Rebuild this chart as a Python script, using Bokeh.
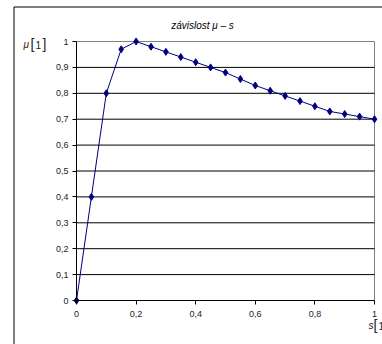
from bokeh.plotting import figure
from bokeh.models import (Range1d, FixedTicker, CustomJSTickFormatter, Label,
                          LinearAxis)
from bokeh.embed import file_html
from bokeh.resources import INLINE

# data
s_values = [0.0, 0.05, 0.1, 0.15, 0.2, 0.25, 0.3, 0.35, 0.4, 0.45, 0.5,
            0.55, 0.6, 0.65, 0.7, 0.75, 0.8, 0.85, 0.9, 0.95, 1.0]
mu_values = [0.0, 0.40, 0.80, 0.97, 1.00, 0.98, 0.96, 0.94, 0.92, 0.90, 0.88,
             0.855, 0.83, 0.81, 0.79, 0.77, 0.75, 0.73, 0.72, 0.71, 0.70]
y_ticks = [0.0, 0.1, 0.2, 0.3, 0.4, 0.5, 0.6, 0.7, 0.8, 0.9, 1.0]
x_ticks = [0.0, 0.2, 0.4, 0.6, 0.8, 1.0]
grid_ticks = [0.1, 0.2, 0.3, 0.4, 0.5, 0.6, 0.7, 0.8, 0.9]
title_text = "závislost μ – s"

FONT = "Liberation Sans"
W, H = 382, 344
FL, FR, FT, FB = 76, 374, 41, 300  # plot-area edges in pixels


def dx(px):
    return (px - FL) / (FR - FL)


def dy(py):
    return (FB - py) / (FB - FT)


p = figure(width=W, height=H, output_backend="svg", toolbar_location=None,
           title=None,
           x_range=Range1d(dx(0), dx(W)), y_range=Range1d(dy(H), dy(0)),
           x_axis_type=None, y_axis_type=None,
           min_border=0, min_border_left=0, min_border_right=0,
           min_border_top=0, min_border_bottom=0)
p.background_fill_color = "white"
p.border_fill_color = "white"
p.outline_line_color = None
p.grid.visible = False

fmt = CustomJSTickFormatter(code="""
var v = Math.round(tick * 10) / 10;
return v.toString().replace('.', ',');
""")

# outer chart border: only its left and top edges fall inside the window
ox, oy = 13.5, 6.5
p.segment(x0=[dx(ox), dx(ox)], y0=[dy(oy), dy(oy)],
          x1=[dx(ox), dx(W)], y1=[dy(H), dy(oy)],
          line_color="black", line_width=1)

# plot-area border: top and right edges (left/bottom are the axes)
p.segment(x0=[x_ticks[0], x_ticks[-1]], y0=[y_ticks[-1], y_ticks[-1]],
          x1=[x_ticks[-1], x_ticks[-1]], y1=[y_ticks[-1], y_ticks[0]],
          line_color="#808080", line_width=1)

# horizontal grid lines across the plot area
n = len(grid_ticks)
p.segment(x0=[x_ticks[0]] * n, x1=[x_ticks[-1]] * n, y0=grid_ticks, y1=grid_ticks,
          line_color="black", line_width=1)

yax = LinearAxis(fixed_location=0, bounds=(0, 1))
xax = LinearAxis(fixed_location=0, bounds=(0, 1))
for ax, ticks in ((yax, y_ticks), (xax, x_ticks)):
    ax.ticker = FixedTicker(ticks=ticks)
    ax.formatter = fmt
    ax.axis_line_color = "black"
    ax.axis_line_width = 1
    ax.major_tick_line_color = "black"
    ax.major_tick_in = 0
    ax.major_tick_out = 4
    ax.minor_tick_line_color = None
    ax.major_label_text_font = FONT
    ax.major_label_text_font_size = "9px"
    ax.major_label_text_color = "#222222"
yax.major_label_standoff = 4
xax.major_label_standoff = 6
p.add_layout(yax, "left")
p.add_layout(xax, "below")

p.line(s_values, mu_values, line_color="#000080", line_width=1)
p.scatter(s_values, mu_values, marker="diamond", size=7,
          fill_color="#000080", line_color="#000080")

# title
p.add_layout(Label(x=dx(202), y=dy(25), text=title_text, text_align="center",
                   text_baseline="middle", text_font=FONT,
                   text_font_style="italic", text_font_size="10px",
                   text_color="black"))

# y axis label  μ [1]
p.add_layout(Label(x=dx(23), y=dy(44), text="μ", text_align="left",
                   text_baseline="middle", text_font=FONT,
                   text_font_style="italic", text_font_size="10px",
                   text_color="#222222"))
p.add_layout(Label(x=dx(30), y=dy(43), text="[", text_align="left",
                   text_baseline="middle", text_font=FONT,
                   text_font_size="14px", text_color="#222222"))
p.add_layout(Label(x=dx(35), y=dy(44), text="1", text_align="left",
                   text_baseline="middle", text_font=FONT,
                   text_font_size="10px", text_color="#222222"))
p.add_layout(Label(x=dx(42), y=dy(43), text="]", text_align="left",
                   text_baseline="middle", text_font=FONT,
                   text_font_size="14px", text_color="#222222"))

# x axis label  s [1   (cut by the window edge, as in the reference)
p.add_layout(Label(x=dx(368), y=dy(325), text="s", text_align="left",
                   text_baseline="middle", text_font=FONT,
                   text_font_style="italic", text_font_size="10px",
                   text_color="#222222"))
p.add_layout(Label(x=dx(373), y=dy(324), text="[", text_align="left",
                   text_baseline="middle", text_font=FONT,
                   text_font_size="14px", text_color="#222222"))
p.add_layout(Label(x=dx(378), y=dy(325), text="1", text_align="left",
                   text_baseline="middle", text_font=FONT,
                   text_font_size="10px", text_color="#222222"))

open("out.html", "w").write(file_html(p, INLINE))
